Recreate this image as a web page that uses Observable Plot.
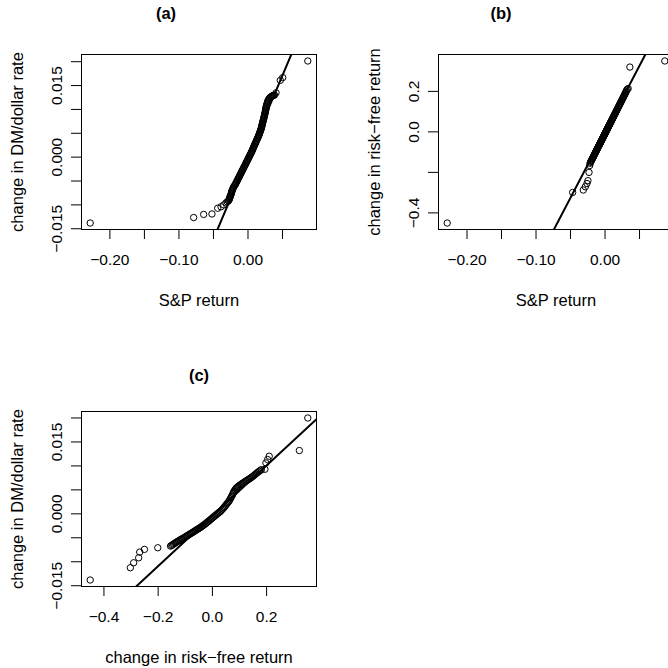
<!DOCTYPE html>
<html><head><meta charset="utf-8">
<script src="https://cdn.jsdelivr.net/npm/d3@7"></script>
<script src="https://cdn.jsdelivr.net/npm/@observablehq/plot@0.6"></script>
<style>
html,body{margin:0;padding:0;background:#fff;overflow:hidden}
#wrap{position:relative;width:668px;height:668px;overflow:hidden;background:#fff}
</style></head><body><div id="wrap"></div>
<script>
// ---- Panel (a): S&P return quantiles vs DM/dollar change quantiles
const panelA_sp = [-0.2285,-0.0787,-0.0642,-0.0522,-0.0439,-0.0391,-0.0352,
 -0.0319,-0.0301,-0.0283,-0.0275,-0.0268,-0.0264,-0.0261,-0.0255,-0.0249,-0.0244,
 -0.0239,-0.0236,-0.0232,-0.0226,-0.0220,-0.0215,-0.0209,-0.0199,-0.0188,-0.0181,
 -0.0174,-0.0166,-0.0159,-0.0152,-0.0145,-0.0137,-0.0130,-0.0123,-0.0116,-0.0108,
 -0.0101,-0.0094,-0.0087,-0.0079,-0.0072,-0.0065,-0.0058,-0.0050,-0.0043,-0.0036,
 -0.0029,-0.0021,-0.0014,-0.0007,0.0000,0.0007,0.0014,0.0021,0.0029,0.0036,
 0.0043,0.0050,0.0057,0.0063,0.0070,0.0075,0.0081,0.0087,0.0094,0.0100,
 0.0107,0.0113,0.0119,0.0125,0.0132,0.0138,0.0145,0.0151,0.0157,0.0162,
 0.0167,0.0172,0.0178,0.0183,0.0188,0.0192,0.0196,0.0200,0.0203,0.0206,
 0.0210,0.0213,0.0217,0.0221,0.0225,0.0228,0.0232,0.0235,0.0239,0.0242,
 0.0246,0.0249,0.0252,0.0255,0.0258,0.0260,0.0262,0.0265,0.0268,0.0273,
 0.0278,0.0282,0.0287,0.0292,0.0297,0.0308,0.0319,0.0330,0.0341,0.0352,
 0.0362,0.0373,0.0384,
 0.0406,0.0468,0.0503,0.0866];
const panelA_dm = [-0.0138,-0.01265,-0.0120,-0.0119,-0.0107,-0.0104,-0.0100,
 -0.00958,-0.00938,-0.00917,-0.00896,-0.00875,-0.00854,-0.00833,-0.00812,-0.00792,-0.00771,
 -0.00750,-0.00729,-0.00708,-0.00688,-0.00667,-0.00646,-0.00625,-0.00604,-0.00583,-0.00562,
 -0.00542,-0.00521,-0.00500,-0.00479,-0.00458,-0.00438,-0.00417,-0.00396,-0.00375,-0.00354,
 -0.00333,-0.00312,-0.00292,-0.00271,-0.00250,-0.00229,-0.00208,-0.00188,-0.00167,-0.00146,
 -0.00125,-0.00104,-0.00083,-0.00062,-0.00042,-0.00021,0.00000,0.00021,0.00042,0.00062,
 0.00083,0.00104,0.00125,0.00146,0.00167,0.00188,0.00208,0.00229,0.00250,0.00271,
 0.00292,0.00312,0.00333,0.00354,0.00375,0.00396,0.00417,0.00438,0.00458,0.00479,
 0.00500,0.00521,0.00542,0.00562,0.00583,0.00604,0.00625,0.00646,0.00667,0.00688,
 0.00708,0.00729,0.00750,0.00771,0.00792,0.00812,0.00833,0.00854,0.00875,0.00896,
 0.00917,0.00938,0.00958,0.00979,0.01000,0.01021,0.01042,0.01062,0.01083,0.01104,
 0.01125,0.01146,0.01167,0.01188,0.01208,0.01229,0.01250,0.01260,0.01271,0.01281,
 0.01292,0.01297,0.01302,
 0.01348,0.0161,0.01667,0.02015];

// ---- Panel (b): S&P return quantiles vs risk-free change quantiles
const panelB_sp = [-0.2287,-0.0469,-0.0315,-0.0286,-0.0262,-0.0248,-0.0232,-0.0222,
 -0.0217,-0.0210,-0.0204,-0.0198,-0.0192,-0.0186,-0.0182,-0.0174,-0.0169,-0.0163,
 -0.0157,-0.0151,-0.0146,-0.0140,-0.0135,-0.0129,-0.0124,-0.0118,-0.0114,-0.0108,
 -0.0103,-0.0098,-0.0093,-0.0087,-0.0083,-0.0078,-0.0074,-0.0068,-0.0063,-0.0059,
 -0.0055,-0.0050,-0.0046,-0.0041,-0.0037,-0.0032,-0.0028,-0.0024,-0.0019,-0.0015,
 -0.0010,-0.0006,-0.0001,0.0003,0.0006,0.0011,0.0015,0.0018,0.0022,0.0027,
 0.0031,0.0036,0.0040,0.0045,0.0049,0.0053,0.0058,0.0062,0.0067,0.0071,
 0.0076,0.0080,0.0086,0.0090,0.0096,0.0101,0.0107,0.0111,0.0117,0.0123,
 0.0129,0.0135,0.0141,0.0147,0.0153,0.0159,0.0166,0.0172,0.0179,0.0185,
 0.0193,0.0198,0.0206,0.0212,0.0219,0.0227,0.0234,0.0241,0.0249,0.0256,
 0.0264,0.0271,0.0278,0.0286,0.0293,0.0299,0.0305,
 0.0310,0.0322,0.0335,0.0360,0.0866];
const panelB_rf = [-0.450,-0.299,-0.287,-0.271,-0.255,-0.241,-0.200,-0.166,
 -0.155,-0.150,-0.146,-0.142,-0.138,-0.134,-0.131,-0.126,-0.122,-0.118,
 -0.114,-0.110,-0.107,-0.103,-0.099,-0.095,-0.092,-0.088,-0.085,-0.081,
 -0.078,-0.074,-0.071,-0.067,-0.064,-0.061,-0.058,-0.054,-0.051,-0.048,
 -0.045,-0.042,-0.039,-0.036,-0.033,-0.030,-0.027,-0.024,-0.021,-0.018,
 -0.015,-0.012,-0.009,-0.006,-0.004,-0.001,0.002,0.004,0.007,0.010,
 0.013,0.016,0.019,0.022,0.025,0.028,0.031,0.034,0.037,0.040,
 0.043,0.046,0.050,0.053,0.057,0.060,0.064,0.067,0.071,0.075,
 0.079,0.083,0.087,0.091,0.095,0.099,0.104,0.108,0.113,0.117,
 0.122,0.126,0.131,0.135,0.140,0.145,0.150,0.155,0.160,0.165,
 0.170,0.175,0.180,0.185,0.190,0.194,0.198,
 0.204,0.210,0.214,0.320,0.350];

// ---- Panel (c): risk-free change quantiles vs DM/dollar change quantiles
const panelC_rf = [-0.4507,-0.3026,-0.2904,-0.2719,-0.2681,-0.2507,-0.2015,
 -0.1544,-0.1507,-0.1470,-0.1433,-0.1396,-0.1359,-0.1322,-0.1285,-0.1248,-0.1211,
 -0.1174,-0.1137,-0.1100,-0.1063,-0.1026,-0.0989,-0.0952,-0.0915,-0.0878,-0.0841,
 -0.0804,-0.0767,-0.0730,-0.0693,-0.0656,-0.0619,-0.0581,-0.0544,-0.0507,-0.0470,
 -0.0433,-0.0396,-0.0359,-0.0322,-0.0285,-0.0248,-0.0211,-0.0174,-0.0137,-0.0100,
 -0.0063,-0.0026,0.0011,0.0048,0.0085,0.0122,0.0159,0.0196,0.0233,0.0270,
 0.0307,0.0344,0.0381,0.0418,0.0456,0.0493,0.0530,0.0567,0.0604,0.0632,
 0.0659,0.0687,0.0715,0.0737,0.0759,0.0780,0.0800,0.0832,0.0863,0.0891,
 0.0919,0.0946,0.0974,0.1011,0.1048,0.1085,0.1122,0.1159,0.1196,0.1233,
 0.1270,0.1307,0.1344,0.1381,0.1419,0.1456,0.1493,0.1530,0.1567,0.1604,
 0.1641,0.1683,0.1726,0.1767,0.1807,
 0.1937,0.1974,0.2037,0.2096,0.3207,0.3519];
const panelC_dm = [-0.01381,-0.01125,-0.01021,-0.00917,-0.00798,-0.00742,-0.00708,
 -0.00673,-0.00660,-0.00646,-0.00631,-0.00617,-0.00603,-0.00590,-0.00577,-0.00565,-0.00551,
 -0.00538,-0.00526,-0.00515,-0.00503,-0.00492,-0.00478,-0.00465,-0.00452,-0.00440,-0.00426,
 -0.00413,-0.00400,-0.00388,-0.00374,-0.00360,-0.00346,-0.00333,-0.00320,-0.00308,-0.00294,
 -0.00281,-0.00265,-0.00250,-0.00234,-0.00219,-0.00202,-0.00185,-0.00168,-0.00152,-0.00134,
 -0.00117,-0.00099,-0.00081,-0.00063,-0.00046,-0.00028,-0.00010,0.00006,0.00023,0.00040,
 0.00056,0.00079,0.00102,0.00126,0.00150,0.00178,0.00206,0.00231,0.00256,0.00283,
 0.00310,0.00340,0.00369,0.00395,0.00421,0.00447,0.00473,0.00499,0.00525,0.00540,
 0.00556,0.00568,0.00581,0.00597,0.00613,0.00626,0.00640,0.00654,0.00669,0.00682,
 0.00696,0.00710,0.00723,0.00736,0.00750,0.00767,0.00783,0.00800,0.00817,0.00834,
 0.00852,0.00871,0.00890,0.00905,0.00921,
 0.00930,0.01063,0.01133,0.01202,0.01321,0.0200];

// ---- Reference lines (slope, intercept) for each panel
const lineSlopes = [0.343, 6.52, 0.0525];
const lineIntercepts = [0.0, 0.001, -0.0004];

// ---- Titles and axis labels
const panelTitles = ["(a)", "(b)", "(c)"];
const xLabels = ["S&P return", "S&P return", "change in risk\u2212free return"];
const yLabels = ["change in DM/dollar rate", "change in risk\u2212free return", "change in DM/dollar rate"];

// ---- Ticks (label "" = tick drawn without label)
const spTicks = [-0.20,-0.15,-0.10,-0.05,0.00,0.05];
const spTickLabels = ["\u22120.20","","\u22120.10","","0.00",""];
const dmTicks = [-0.015,-0.010,-0.005,0.000,0.005,0.010,0.015,0.020];
const dmTickLabels = ["\u22120.015","","","0.000","","","0.015",""];
const rfTicksB = [-0.4,-0.2,0.0,0.2];
const rfTickLabelsB = ["\u22120.4","","0.0","0.2"];
const rfTicksC = [-0.4,-0.2,0.0,0.2];
const rfTickLabelsC = ["\u22120.4","\u22120.2","0.0","0.2"];

const FONT = '"Liberation Sans", Arial, Helvetica, sans-serif';
function ext(a){const [lo,hi]=d3.extent(a);const p=(hi-lo)*0.04;return [lo-p,hi+p];}

function panel(o){
  const xd=ext(o.xs), yd=ext(o.ys);
  const pts=o.xs.map((x,i)=>({x,y:o.ys[i]}));
  const fit=xd.map(x=>({x,y:o.intercept+o.slope*x}));
  const xl=o.xTicks.map((v,i)=>({v,t:o.xTickLabels[i]})).filter(d=>d.t);
  const yl=o.yTicks.map((v,i)=>({v,t:o.yTickLabels[i]})).filter(d=>d.t);
  const T={fill:"black",textAnchor:"middle",lineAnchor:"middle"};
  const svg=Plot.plot({
    width:o.width,height:o.height,
    marginLeft:o.ml,marginRight:o.mr,marginTop:o.mt,marginBottom:o.mb,
    style:{fontFamily:FONT,fontSize:"15px",background:"white",color:"black"},
    x:{domain:xd},y:{domain:yd},
    marks:[
      Plot.dot(pts,{x:"x",y:"y",r:3.2,stroke:"black",strokeWidth:1,fill:"none"}),
      Plot.line(fit,{x:"x",y:"y",stroke:"black",strokeWidth:2,clip:true}),
      Plot.frame({stroke:"black",strokeWidth:1}),
      Plot.axisX(o.xTicks,{anchor:"bottom",tickSize:10,tickFormat:()=>"",label:null,stroke:"black"}),
      Plot.axisY(o.yTicks,{anchor:"left",tickSize:10,tickFormat:()=>"",label:null,stroke:"black"}),
      Plot.text(xl,{x:"v",text:"t",frameAnchor:"bottom",dy:31,fontSize:15.5,...T}),
      Plot.text(yl,{y:"v",text:"t",frameAnchor:"left",dx:-24,rotate:-90,fontSize:15.5,...T}),
      Plot.text([o.xLabel],{text:d=>d,frameAnchor:"bottom",dy:71,fontSize:16.5,...T}),
      Plot.text([o.yLabel],{text:d=>d,frameAnchor:"left",dx:-64,rotate:-90,fontSize:16.5,...T}),
      Plot.text([o.title],{text:d=>d,frameAnchor:"top",dx:o.titleDx,dy:o.titleDy,fontSize:16.5,fontWeight:"bold",...T})
    ]
  });
  svg.style.position="absolute"; svg.style.left=o.left+"px"; svg.style.top=o.top+"px";
  return svg;
}

const wrap=document.getElementById("wrap");
wrap.appendChild(panel({xs:panelA_sp,ys:panelA_dm,slope:lineSlopes[0],intercept:lineIntercepts[0],
  xTicks:spTicks,xTickLabels:spTickLabels,yTicks:dmTicks,yTickLabels:dmTickLabels,
  xLabel:xLabels[0],yLabel:yLabels[0],title:panelTitles[0],titleDx:-33,titleDy:-41,
  width:334,height:334,ml:81,mr:18,mt:54,mb:105,left:0,top:0}));
wrap.appendChild(panel({xs:panelB_sp,ys:panelB_rf,slope:lineSlopes[1],intercept:lineIntercepts[1],
  xTicks:spTicks,xTickLabels:spTickLabels,yTicks:rfTicksB,yTickLabels:rfTickLabelsB,
  xLabel:xLabels[1],yLabel:yLabels[1],title:panelTitles[1],titleDx:-55,titleDy:-41,
  width:339,height:334,ml:104,mr:0,mt:54,mb:105,left:334,top:0}));
wrap.appendChild(panel({xs:panelC_rf,ys:panelC_dm,slope:lineSlopes[2],intercept:lineIntercepts[2],
  xTicks:rfTicksC,xTickLabels:rfTickLabelsC,yTicks:dmTicks,yTickLabels:dmTickLabels,
  xLabel:xLabels[2],yLabel:yLabels[2],title:panelTitles[2],titleDx:0,titleDy:-36,
  width:334,height:334,ml:81,mr:18,mt:77,mb:82,left:0,top:334}));
</script></body></html>
